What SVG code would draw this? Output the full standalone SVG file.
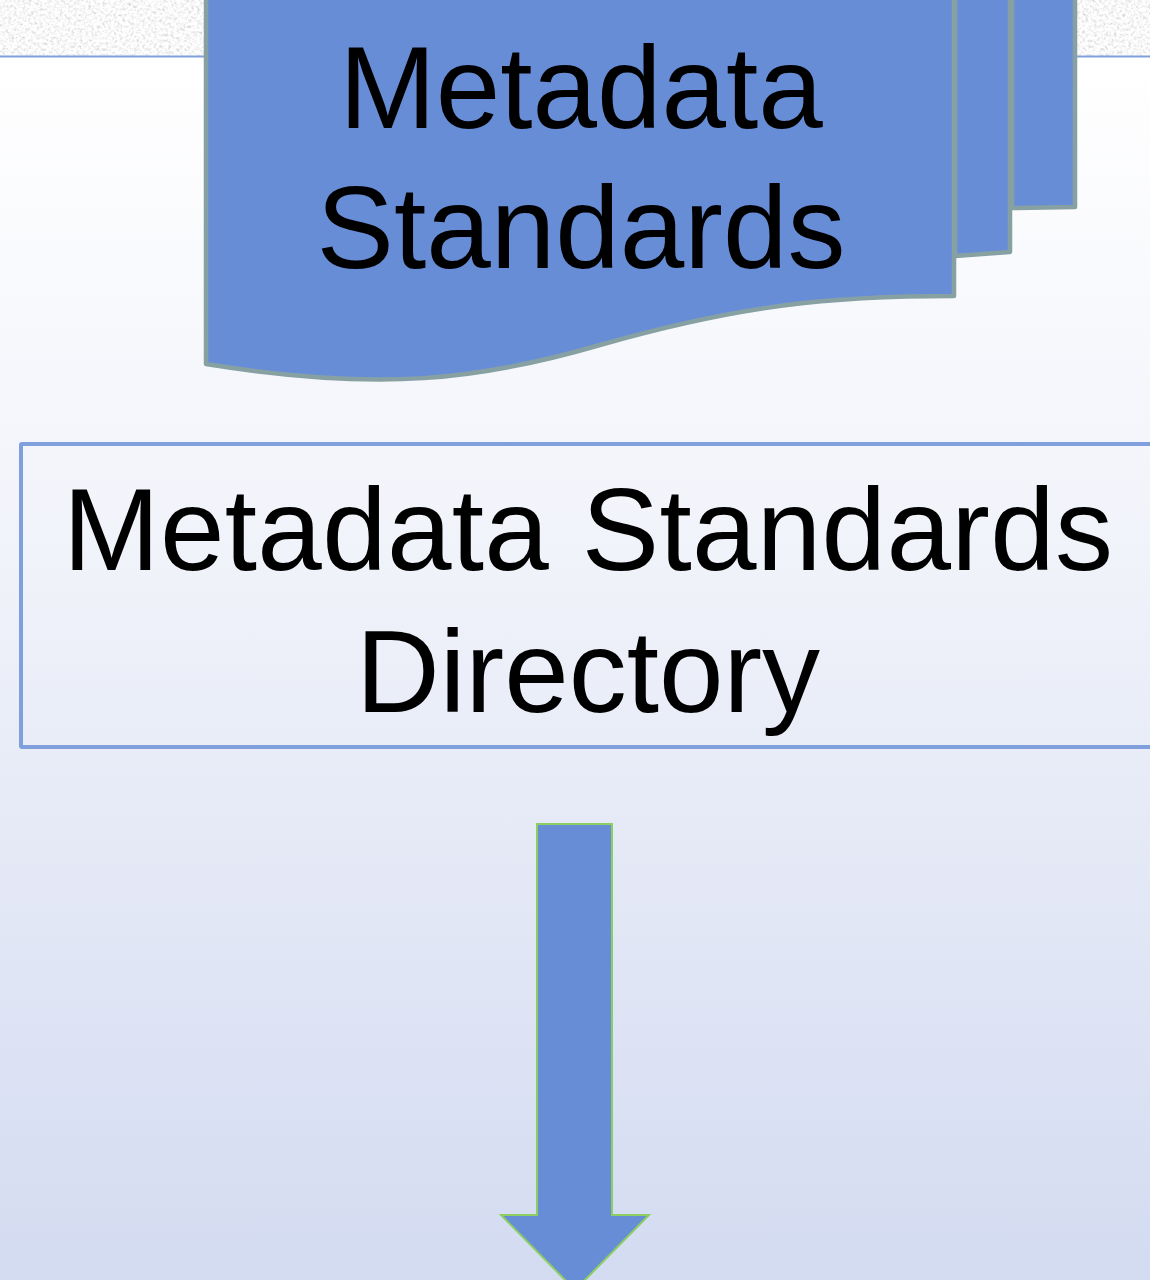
<svg xmlns="http://www.w3.org/2000/svg" width="1150" height="1280" viewBox="0 0 1150 1280">
<defs>
<linearGradient id="bg" x1="0" y1="57" x2="0" y2="1280" gradientUnits="userSpaceOnUse">
<stop offset="0" stop-color="#ffffff"/>
<stop offset="0.4" stop-color="#f1f3fa"/>
<stop offset="1" stop-color="#d3dbf1"/>
</linearGradient>
<filter id="granite" x="0" y="0" width="100%" height="100%">
<feTurbulence type="fractalNoise" baseFrequency="0.35" numOctaves="3" seed="4" result="n"/>
<feColorMatrix in="n" type="matrix" values="0.33 0.33 0.33 0 0  0.33 0.33 0.33 0 0  0.33 0.33 0.33 0 0  0 0 0 0 1" result="g"/>
<feComponentTransfer in="g">
<feFuncR type="linear" slope="1.1" intercept="0.4"/>
<feFuncG type="linear" slope="1.1" intercept="0.4"/>
<feFuncB type="linear" slope="1.1" intercept="0.4"/>
</feComponentTransfer>
</filter>
<style>
.doc{fill:#688dd7;stroke:#87a1a3;stroke-width:4.5;stroke-linejoin:round}
.lbl{font-family:"Liberation Sans",Arial,sans-serif;font-size:116px;fill:#000;text-anchor:middle}
</style>
</defs>
<rect x="0" y="0" width="1150" height="1280" fill="url(#bg)"/>
<rect x="0" y="0" width="1150" height="56" filter="url(#granite)"/>
<line x1="0" y1="56.5" x2="1150" y2="56.5" stroke="#7f9fdd" stroke-width="2"/>

<g id="metadata-standards">
<path class="doc" d="M1012,-10 L1075,-10 L1075,207 L1012,208 Z"/>
<path class="doc" d="M955,-10 L1010,-10 L1010,252 L955,256 Z"/>
<path class="doc" d="M206,-10 L954,-10 L954,296 C830,296 740,305 600,345 C480,380 380,392 206,364 Z"/>
<text class="lbl" x="581" y="128">Metadata</text>
<text class="lbl" x="581" y="268">Standards</text>
</g>

<g id="directory">
<rect x="21" y="444" width="1140" height="303" fill="none" stroke="#7f9fdd" stroke-width="4" rx="1"/>
<text class="lbl" x="588" y="570" textLength="1050" lengthAdjust="spacing">Metadata Standards</text>
<text class="lbl" x="588" y="712">Directory</text>
</g>

<g id="connectors">
<path d="M537,824 L612,824 L612,1215 L649,1215 L575,1290 L501,1215 L537,1215 Z" fill="#688dd7" stroke="#8ccf60" stroke-width="2"/>
</g>
</svg>
